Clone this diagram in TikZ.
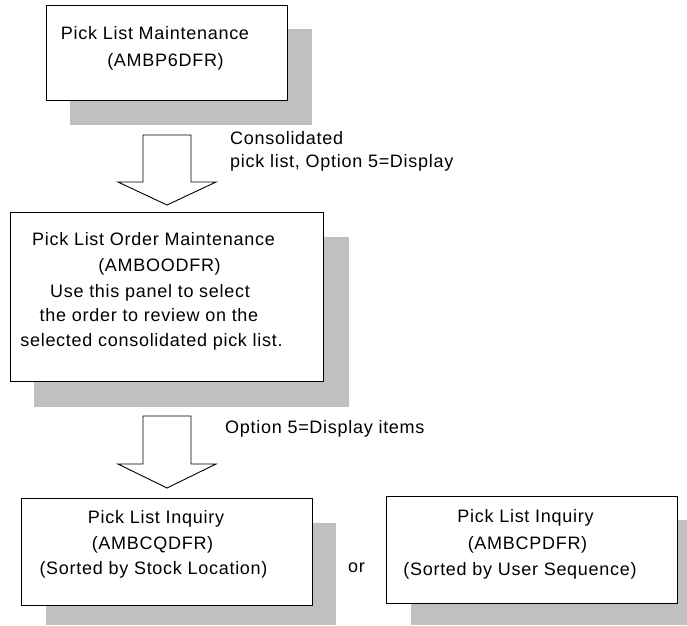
\documentclass[tikz,border=0pt]{standalone}
\usepackage{fontspec}
\setmainfont{Liberation Sans}[LetterSpace=4]
\definecolor{shadowgray}{RGB}{192,192,192}
\tikzset{
  shadowfill/.style={fill=shadowgray, draw=none},
  panel/.style={draw=black, fill=white, line width=1pt, anchor=north west, inner sep=0pt, outer sep=0pt},
  txt/.style={anchor=base, inner sep=0pt, font=\fontsize{18}{20}\selectfont},
  lbl/.style={anchor=base west, inner sep=0pt, font=\fontsize{18}{20}\selectfont},
  blockarrow/.style={draw=black, fill=white, line width=0.9pt, line join=miter},
}
\begin{document}
\begin{tikzpicture}[x=1pt, y=-1pt]
\useasboundingbox (0,0) rectangle (687,625);
% shadows
\fill[shadowfill] (70,29) rectangle (312,125);
\fill[shadowfill] (34,237) rectangle (349,407);
\fill[shadowfill] (46,523) rectangle (336,625);
\fill[shadowfill] (411,520) rectangle (687,625);
% boxes
\node[panel, minimum width=241pt, minimum height=95pt] (b1) at (46,5) {};
\node[panel, minimum width=313pt, minimum height=169pt] (b2) at (10,212) {};
\node[panel, minimum width=291pt, minimum height=107pt] (b3) at (21,498) {};
\node[panel, minimum width=291pt, minimum height=107pt] (b4) at (386,496) {};
% block arrows
\draw[blockarrow] (143,135) -- (191,135) -- (191,182) -- (216,182) -- (167,205) -- (118,182) -- (143,182) -- cycle;
\draw[blockarrow] (143,416) -- (191,416) -- (191,464) -- (216,464) -- (167,488) -- (118,464) -- (143,464) -- cycle;
% texts box 1
\node[txt] (t1a) at (155,39) {Pick List Maintenance};
\node[txt] (t1b) at (165.5,66) {(AMBP6DFR)};
% labels arrow 1
\node[lbl] (l1a) at (230,144) {Consolidated};
\node[lbl] (l1b) at (230,167) {pick list, Option 5=Display};
% texts box 2
\node[txt] (t2a) at (153.5,245) {Pick List Order Maintenance};
\node[txt] (t2b) at (159.5,271) {(AMBOODFR)};
\node[txt] (t2c) at (150,297) {Use this panel to select};
\node[txt] (t2d) at (149,321) {the order to review on the};
\node[txt] (t2e) at (151.5,346) {selected consolidated pick list.};
% label arrow 2
\node[lbl] (l2) at (225,433) {Option 5=Display items};
% texts box 3
\node[txt] (t3a) at (156,523) {Pick List Inquiry};
\node[txt] (t3b) at (152.5,549) {(AMBCQDFR)};
\node[txt] (t3c) at (153.5,574) {(Sorted by Stock Location)};
% or
\node[lbl] (or) at (348,572) {or};
% texts box 4
\node[txt] (t4a) at (525.5,522) {Pick List Inquiry};
\node[txt] (t4b) at (527.5,549) {(AMBCPDFR)};
\node[txt] (t4c) at (520,575) {(Sorted by User Sequence)};
\end{tikzpicture}
\end{document}
